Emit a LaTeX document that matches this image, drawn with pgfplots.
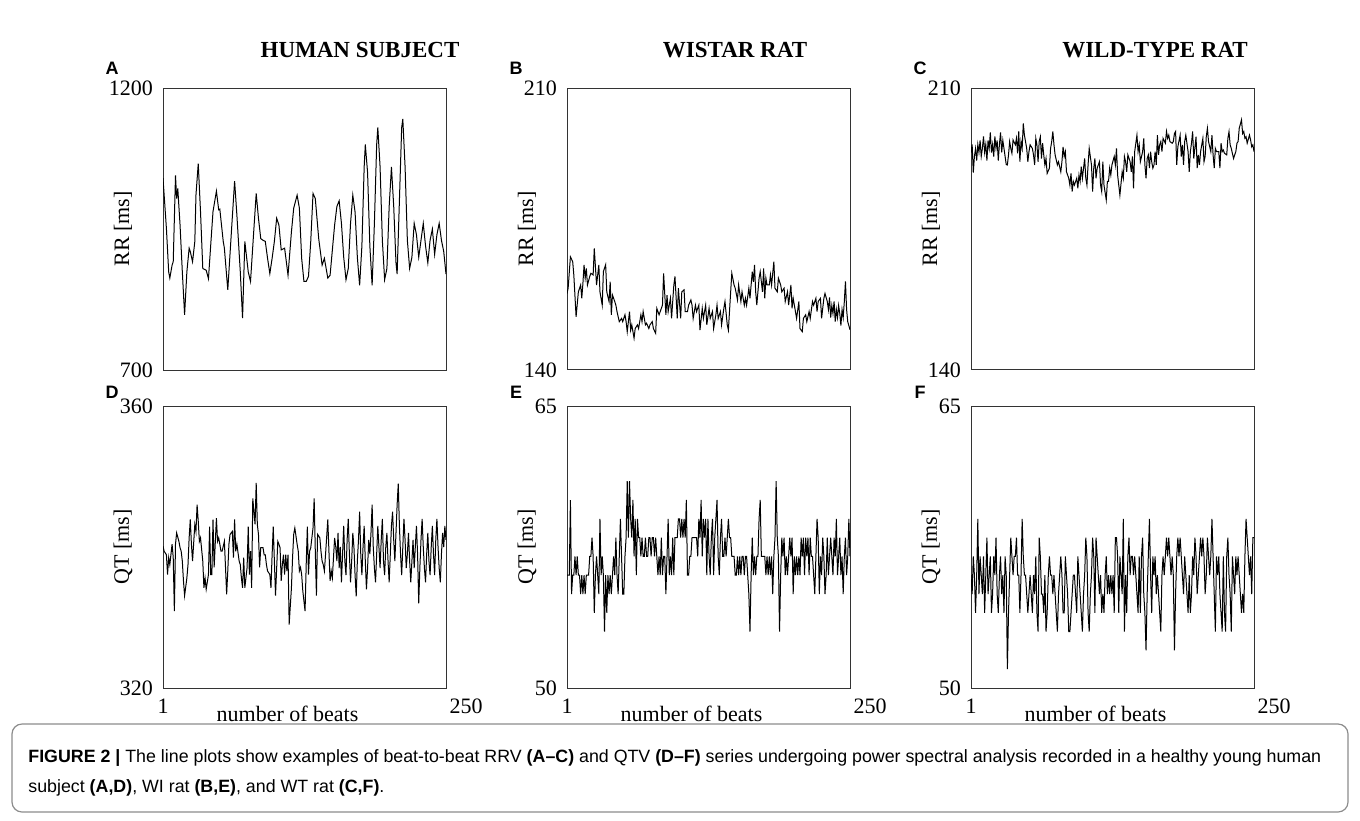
\documentclass[border=0pt]{standalone}
\usepackage{fontspec}
\setmainfont{Liberation Serif}
\newfontfamily\sansf{Liberation Sans}
\usepackage{pgfplots}
\pgfplotsset{compat=1.18}
\pgfplotsset{
  panel/.style={
    scale only axis, width=141.5pt, height=141pt,
    xmin=1, xmax=250, anchor=north west,
    axis line style={draw=black!80, line width=0.5pt},
    major tick length=0pt,
    tick label style={font=\fontsize{11}{13}\selectfont},
    /pgf/number format/assume math mode=true,
    /pgf/number format/1000 sep={},
    xtick=\empty,
    yticklabel style={anchor=east, xshift=-1.5pt},
    every axis y label/.style={at={(axis description cs:0,0.5)}, xshift=-20pt, rotate=90, anchor=center, font=\fontsize{11}{13}\selectfont},
    every axis x label/.style={at={(axis description cs:0.44,0)}, yshift=-13pt, anchor=center, font=\fontsize{11}{13}\selectfont},
    cycle list={{black, mark=none, line width=0.5pt}},
  },
  bottom/.style={xtick={1}, extra x ticks={250}, extra x tick style={tick label style={xshift=10pt}},
    xticklabel style={anchor=north, yshift=-2pt}, xlabel={number of beats}},
}
\begin{document}
\begin{tikzpicture}[x=0.5pt,y=-0.5pt]
\path[use as bounding box] (0,0) rectangle (1360,820);
% titles
\node[font=\fontsize{11.5}{13}\selectfont\bfseries] at (360,50) {HUMAN SUBJECT};
\node[font=\fontsize{11.5}{13}\selectfont\bfseries] at (735,50) {WISTAR RAT};
\node[font=\fontsize{11.5}{13}\selectfont\bfseries] at (1155,50) {WILD-TYPE RAT};
\foreach \L/\xx/\yy in {A/112/68, B/516/68, C/920/68, D/112/392, E/516/392, F/920/392}
  \node[font=\sansf\bfseries\fontsize{9}{10}\selectfont] at (\xx,\yy) {\L};

% ---------- A ----------
\begin{axis}[panel, at={(81.5pt,-44pt)}, ymin=700, ymax=1200, ytick={700,1200}, ylabel={RR [ms]}]
\addplot[black, mark=none, line width=0.5pt] coordinates {(1,1040) (4,951) (6,874) (7,863) (9,886) (10,892) (12,1045) (13,1004) (14,1022) (16,957) (18,874) (20,798) (22,874) (24,916) (25,910) (27,892) (29,928) (30,1010) (32,1066) (34,981) (36,880) (39,877) (41,862) (43,922) (45,981) (48,1017) (50,984) (51,985) (54,928) (55,916) (58,842) (61,939) (64,1035) (66,975) (69,874) (71,792) (73,928) (76,874) (78,857) (81,951) (83,1013) (85,969) (87,933) (89,930) (91,928) (93,898) (95,871) (97,898) (99,928) (101,969) (103,957) (105,913) (108,916) (111,868) (114,945) (116,987) (119,1010) (121,987) (123,898) (125,857) (127,857) (129,866) (131,928) (133,1013) (135,1004) (138,933) (141,886) (143,898) (146,863) (148,868) (152,957)
(154,990) (156,1000) (158,960) (160,900) (162,860) (164,880) (166,960) (168,1010) (170,980) (172,900) (174,850) (176,920) (178,1060) (179,1100) (181,1050) (183,920) (185,850) (187,960) (189,1100) (190,1130) (192,1060) (194,930) (196,860) (198,880) (200,990) (202,1060) (204,990) (206,890) (207,870) (209,1000) (211,1130) (212,1145) (214,1060) (216,930) (218,880) (220,900) (222,960) (224,940) (226,900) (228,930) (230,960) (232,920) (234,890) (236,930) (238,950) (240,905) (242,940) (244,960) (246,930) (248,910) (250,870)};
\end{axis}

% ---------- B ----------
\begin{axis}[panel, at={(283.5pt,-44pt)}, ymin=140, ymax=210, ytick={140,210}, ylabel={RR [ms]}]
\addplot[black, mark=none, line width=0.5pt] coordinates {(1,159.0) (2,160.3) (4,168.1) (6,166.9) (7,163.6) (9,153.2) (11,159.4) (13,161.1) (14,157.8) (15,161.5) (16,166.1) (17,162.8) (18,165.2) (19,161.1) (21,163.2) (22,164.0) (24,163.6) (25,170.2) (27,161.1) (29,166.1) (30,159.4) (32,156.1) (33,164.4) (35,166.1) (36,159.4) (38,157.0) (39,161.9) (40,153.7) (41,158.6) (43,157.0) (44,156.1) (45,154.5) (47,152.0) (49,152.8) (50,152.0) (52,153.7) (53,152.0) (54,149.5) (56,154.5) (57,149.9) (58,151.2) (60,147.9) (61,150.3) (63,151.2) (64,150.3) (66,153.7) (67,152.0) (68,154.5) (70,151.2) (71,151.6) (73,150.3) (74,151.2) (76,152.0) (77,150.3) (79,149.1) (80,155.3) (82,153.7) (83,154.5) (85,156.1) (86,164.0) (88,153.7) (89,158.6) (90,154.5) (92,157.8) (93,152.8) (95,161.1) (96,163.2) (98,152.8) (99,160.3) (101,152.8) (102,159.4) (104,159.9) (105,154.5) (107,154.5) (108,156.1) (110,157.4) (111,156.1) (112,152.8) (114,156.1) (115,154.5) (117,156.1) (118,149.9) (120,155.3) (121,152.8) (123,156.1) (124,151.2) (126,155.3) (127,152.8) (129,154.5) (130,150.3) (132,153.7) (133,156.1) (134,152.8) (136,154.5) (137,151.2) (139,155.3) (140,157.0) (142,151.2) (143,149.9) (145,159.4) (146,164.0) (148,161.1) (149,160.3) (151,157.4) (152,161.1) (154,157.0) (155,159.4) (157,156.1) (158,157.8) (159,156.1) (161,160.3) (162,157.8) (164,164.4) (165,161.9) (166,166.1) (167,159.4) (168,156.1) (170,162.8) (171,164.4) (173,159.4) (174,165.2) (175,157.8) (176,162.8) (177,161.1) (179,161.1) (180,163.6) (181,161.1) (183,166.9) (184,160.3) (186,159.4) (187,162.8) (189,161.1) (190,159.4) (192,160.3) (193,157.0) (195,159.4) (196,156.1) (198,161.1) (199,155.3) (200,157.8) (202,154.5) (203,152.8) (205,157.0) (206,150.3) (208,149.5) (209,152.8) (211,153.7) (212,152.0) (214,154.5) (215,152.8) (217,157.0) (218,156.1) (220,157.8) (221,154.5) (222,157.0) (224,157.8) (225,152.8) (227,157.8) (228,159.0) (230,157.0) (231,155) (232,158) (233,153) (234,156) (235,154) (236,157) (237,152) (238,155) (239,153) (240,156) (241,154) (242,151) (243,155) (244,153) (245,157) (246,162) (247,155) (248,152) (249,151) (250,150)};
\end{axis}

% ---------- C ----------
\begin{axis}[panel, at={(485.5pt,-44pt)}, ymin=140, ymax=210, ytick={140,210}, ylabel={RR [ms]}]
\addplot[black, mark=none, line width=0.5pt] coordinates {(1,194) (2,196) (3,189) (4,193) (5,195) (6,192) (7,196) (8,194) (9,197) (10,193) (11,195) (12,198) (13,194) (14,196) (15,192) (16,197) (17,195) (18,199) (19,194) (20,196) (21,193) (22,198) (23,195) (24,197) (25,192) (26,196) (27,199) (28,194) (29,197) (30,195) (31,193) (32,191)
(33,190.9) (34,193.4) (35,196.7) (36,195.0) (37,193.8) (38,197.1) (40,195.9) (41,197.5) (42,193.8) (43,199.2) (44,191.7) (45,196.7) (46,195.0) (47,201.2) (48,198.3) (50,195.0) (51,191.7) (52,194.2) (53,195.9) (55,195.0) (56,193.4) (57,190.9) (58,197.5) (59,195.9) (60,191.7) (61,196.7) (62,197.9) (63,192.5) (64,196.3) (65,193.4) (66,190.9) (67,192.5) (68,188.8) (70,190.1) (71,195.0) (72,196.7) (73,199.2) (74,195.9) (75,193.4) (77,190.9) (78,191.7) (80,189.2) (81,191.7) (82,195.4) (83,193.0) (84,194.2) (85,189.2) (87,187.6) (88,185.9) (89,188.8) (90,184.3) (91,186.8) (92,185.9) (94,187.6) (95,185.1) (96,188.4) (97,186.8) (98,190.5) (99,187.6) (101,192.5) (102,187.6) (103,185.9) (104,190.9) (105,195.0) (107,190.9) (108,184.3) (109,190.1) (110,192.5) (111,187.6) (112,190.1) (114,191.7) (115,185.9) (116,184.3) (117,191.7) (118,185.9) (120,182.2) (121,186.8) (122,186.8) (123,190.1) (124,188.4) (125,190.9) (127,193.0) (128,190.9) (129,195.0) (130,188.4) (131,185.9) (132,183.4) (134,189.2) (135,187.6) (136,193.0) (137,191.7) (138,189.2) (139,193.4) (141,191.7) (142,189.2) (143,193.0) (144,185.1) (145,194.2) (147,198.3) (148,194.2) (149,195.9) (150,191.7) (152,194.2)
(153,197.5) (154,190.9) (155,187.6) (156,192.5) (157,193.4) (158,190.1) (159,194.2) (160,191.7) (161,190.1) (162,190.9) (163,194.2) (164,190.9) (165,198.3) (166,193.4) (167,195.9) (168,196.7) (169,194.2) (170,197.5) (172,196.3) (173,199.2) (174,197.5) (175,198.3) (176,196.7) (178,196.3) (179,196.7) (180,198.7) (181,199.2) (182,190.9) (183,195.4) (185,198.3) (186,193.0) (187,195.9) (188,190.9) (189,196.7) (190,198.3) (192,194.2) (193,189.2) (194,194.2) (195,196.3) (196,199.2) (197,192.5) (199,197.9) (200,190.1) (201,193.4) (202,190.9) (203,194.2) (205,197.5) (206,191.7) (207,193.0) (208,197.9) (209,200.0) (210,196.7) (212,194.2) (213,198.3) (214,193.4) (215,190.1) (216,195.0) (217,194.2) (219,194.2) (220,190.1) (221,196.3) (222,194.2) (223,194.6) (224,193.8) (226,193.4) (227,197.5) (228,199.2) (229,195.9) (230,195.0) (232,192.5) (233,193.4) (234,194.2) (235,196.3) (236,196.7) (237,200.0) (239,202.1) (240,198.7) (241,199.2) (242,197.5) (243,197.9) (244,196.3) (246,198.3) (247,197.1) (248,195.4) (249,195.9) (250,194.2)};
\end{axis}

% ---------- D ----------
\begin{axis}[panel, bottom, at={(81.5pt,-203pt)}, ymin=320, ymax=360, ytick={320,360}, ylabel={QT [ms]}]
\addplot[black, mark=none, line width=0.5pt] coordinates {(1,340.1) (2,339.4) (4,338.9) (5,336.1) (6,338.5) (7,337.5) (9,340.4) (10,338.5) (11,330.9) (12,340.4) (13,342.0) (15,340.8) (16,339.9) (17,339.4) (18,338.0) (19,335.2) (20,333.1) (22,335.6) (23,337.5) (24,341.3) (25,343.9) (26,340.4) (27,338.0) (29,343.2) (30,342.2) (31,346.0) (32,343.7) (33,340.8) (34,341.3) (36,338.0) (37,334.2) (38,335.6) (39,334.0) (41,336.1) (42,342.9) (43,336.1) (44,336.1) (45,343.9) (46,337.1) (48,344.1) (49,340.8) (50,341.3) (51,340.4) (52,339.4) (53,339.4) (55,340.8) (56,337.1) (57,333.3) (58,336.6) (59,340.4) (60,341.8) (62,342.2) (63,338.5) (64,343.9) (65,339.4) (66,340.4) (68,338.0) (69,337.5) (70,335.6) (71,334.2) (72,338.5) (73,334.2) (75,337.1) (76,342.9) (77,336.1) (78,339.4) (79,334.2) (80,346.9) (82,343.2) (83,349.1) (84,343.2) (85,341.8) (86,337.1) (87,339.9) (89,339.9) (90,338.9) (91,338.9) (92,337.5) (93,336.6) (95,336.1) (96,334.2) (97,338.9) (98,342.9) (99,338.0) (100,333.1) (102,340.8) (103,340.4) (104,339.9) (105,335.2) (106,337.5) (107,338.9) (108,336.1) (109,338.9) (110,336.6) (111,338.9) (112,329.0) (114,334.2) (115,338.5) (116,341.8) (117,342.7) (119,340.4) (120,339.4) (121,336.6) (122,337.1) (123,336.1) (124,333.8) (126,330.9) (127,337.5) (128,342.9) (129,336.1) (130,339.4) (131,339.9) (133,342.7) (134,346.9) (135,339.4) (136,333.1) (137,341.8) (139,341.3) (140,339.4) (141,338.0) (142,337.5) (143,336.6) (144,338.9) (146,343.9) (147,339.4) (148,335.2) (149,336.6) (150,335.6) (152,341.3)
(153,340) (154,338) (155,342) (156,337) (157,340) (158,335) (159,339) (160,343) (161,338) (162,336) (163,341) (164,344) (165,339) (166,335) (167,338) (168,342) (169,340) (170,336) (171,333) (172,338) (173,341) (174,345) (175,339) (176,336) (177,340) (178,343) (179,338) (180,334) (181,337) (182,341) (183,339) (184,342) (185,346) (186,340) (187,337) (188,335) (189,339) (190,343) (191,340) (192,337) (193,341) (194,344) (195,338) (196,336) (197,340) (198,342) (199,338) (200,335) (201,339) (202,343) (203,345) (204,341) (205,338) (206,342) (207,346) (208,349) (209,343) (210,339) (211,336) (212,340) (213,344) (214,341) (215,337) (216,339) (217,342) (218,338) (219,335) (220,338) (221,341) (222,337) (223,340) (224,343) (225,339) (226,332) (227,337) (228,341) (229,344) (230,340) (231,337) (232,335) (233,339) (234,342) (235,338) (236,336) (237,340) (238,343) (239,339) (240,336) (241,341) (242,344) (243,340) (244,337) (245,335) (246,339) (247,342) (248,340) (249,343) (250,341)};
\end{axis}

% ---------- E ----------
\begin{axis}[panel, bottom, at={(283.5pt,-203pt)}, ymin=50, ymax=65, ytick={50,65}, ylabel={QT [ms]}]
\addplot[black, mark=none, line width=0.5pt] coordinates {(1,56) (2,56) (3,56) (4,60) (5,55) (6,56) (7,56) (8,57) (9,56) (10,57) (11,56) (12,56) (13,55) (14,56) (15,55) (16,56) (17,55) (18,56) (19,56) (20,56) (21,57) (22,57) (23,58) (24,57) (25,54) (26,56) (27,57) (28,56) (29,55) (30,59) (31,56) (32,57) (33,56) (34,53) (35,56) (36,54) (37,56) (38,55) (39,56) (40,55) (41,56) (42,57) (43,56) (44,58) (45,56) (46,55) (47,57) (48,59) (49,57) (50,55) (51,55) (52,57) (53,58) (54,61) (55,58) (56,61) (57,59) (58,58) (59,60) (60,57) (61,59) (62,56) (63,59) (64,58) (65,58) (66,57) (67,58) (68,57) (69,57) (70,58) (71,57) (72,57) (73,58) (74,58) (75,57) (76,58) (77,58) (78,57) (79,58) (80,57) (81,56) (82,57) (83,56) (84,58) (85,56) (86,57) (87,57) (88,55) (89,57) (90,59) (91,56) (92,57) (93,56) (94,58) (95,56) (96,58) (97,58) (98,58) (99,59) (100,59) (101,58) (102,59) (103,58) (104,59) (105,58) (106,60) (107,56) (108,56) (109,57) (110,57) (111,58) (112,58) (113,58) (114,58) (115,58)
(116,57) (117,59) (118,58) (119,60) (120,57) (121,59) (122,58) (123,59) (124,56) (125,59) (126,57) (127,56) (128,58) (129,59) (130,56) (131,58) (132,59) (133,60) (134,57) (135,56) (136,58) (137,59) (138,57) (139,57) (140,58) (141,57) (142,58) (143,59) (144,58) (145,58) (146,57) (147,57) (148,57) (149,56) (150,56) (151,57) (152,56) (153,57) (154,56) (155,57) (156,57) (157,56) (158,57) (159,57) (160,56) (161,55) (162,53) (163,56) (164,58) (165,56) (166,57) (167,56) (168,57) (169,57) (170,59) (171,60) (172,57) (173,57) (174,57) (175,57) (176,56) (177,57) (178,56) (179,57) (180,56) (181,57) (182,55) (183,57) (184,58) (185,61) (186,58) (187,57) (188,53) (189,56) (190,58) (191,57) (192,58) (193,56) (194,57) (195,56) (196,57) (197,58) (198,57) (199,58) (200,55) (201,57) (202,56) (203,57) (204,56) (205,57) (206,56) (207,58) (208,57) (209,58) (210,56) (211,58) (212,57) (213,58) (214,56) (215,58) (216,57) (217,57) (218,56) (219,55) (220,57) (221,59) (222,58) (223,55) (224,57) (225,56) (226,58) (227,57) (228,55) (229,56) (230,58) (231,56) (232,57) (233,58) (234,57) (235,56) (236,58) (237,57) (238,59) (239,56) (240,57) (241,58) (242,56) (243,57) (244,55) (245,57) (246,58) (247,56) (248,57) (249,59) (250,57)};
\end{axis}

% ---------- F ----------
\begin{axis}[panel, bottom, at={(485.5pt,-203pt)}, ymin=50, ymax=65, ytick={50,65}, ylabel={QT [ms]}]
\addplot[black, mark=none, line width=0.5pt] coordinates {(1,56) (2,55) (3,57) (4,56) (5,54) (6,56) (7,59) (8,55) (9,57) (10,56) (11,55) (12,57) (13,54) (14,56) (15,58) (16,55) (17,56) (18,57) (19,54) (20,55) (21,57) (22,56) (23,58) (24,55) (25,54) (26,56) (27,57) (28,55) (29,56) (30,54) (31,57) (32,56)
(33,51) (34,54) (35,56) (36,58) (37,57) (38,56) (39,57) (40,57) (41,58) (42,56) (43,56) (44,54) (45,56) (46,59) (47,57) (48,56) (49,56) (50,55) (51,54) (52,55) (53,56) (54,55) (55,54) (56,56) (57,55) (58,57) (59,54) (60,53) (61,58) (62,57) (63,55) (64,55) (65,54) (66,56) (67,53) (68,54) (69,56) (70,57) (71,56) (72,56) (73,55) (74,56) (75,55) (76,54) (77,53) (78,55) (79,56) (80,57) (81,56) (82,54) (83,54) (84,57) (85,56) (86,55) (87,53) (88,53) (89,54) (90,55) (91,56) (92,56) (93,55) (94,54) (95,57) (96,56) (97,55) (98,54) (99,53) (100,55) (101,56) (102,58) (103,57) (104,54) (105,53) (106,55) (107,56) (108,58) (109,57) (110,54) (111,58) (112,57) (113,56) (114,55) (115,56) (116,54) (117,55) (118,54) (119,56) (120,57) (121,55) (122,56) (123,55) (124,56) (125,55) (126,56) (127,54) (128,58) (129,58) (130,57) (131,54) (132,57) (133,56) (134,55) (135,59) (136,53) (137,56) (138,54) (139,57) (140,58) (141,56) (142,57) (143,57) (144,56) (145,57) (146,56) (147,55) (148,54) (149,57)
(150,54) (151,57) (152,58) (153,55) (154,54) (155,52) (156,55) (157,57) (158,59) (159,56) (160,54) (161,57) (162,56) (163,57) (164,55) (165,56) (166,55) (167,54) (168,53) (169,56) (170,57) (171,56) (172,57) (173,58) (174,57) (175,58) (176,57) (177,56) (178,57) (179,56) (180,52) (181,55) (182,57) (183,58) (184,57) (185,58) (186,57) (187,56) (188,55) (189,57) (190,56) (191,55) (192,54) (193,56) (194,54) (195,55) (196,57) (197,56) (198,58) (199,57) (200,55) (201,56) (202,57) (203,58) (204,57) (205,58) (206,57) (207,55) (208,56) (209,58) (210,57) (211,56) (212,57) (213,59) (214,57) (215,55) (216,53) (217,57) (218,56) (219,57) (220,55) (221,54) (222,53) (223,57) (224,54) (225,53) (226,57) (227,58) (228,56) (229,55) (230,53) (231,57) (232,56) (233,55) (234,57) (235,56) (236,57) (237,56) (238,55) (239,54) (240,55) (241,54) (242,57) (243,59) (244,58) (245,57) (246,56) (247,57) (248,55) (249,58) (250,58)};
\end{axis}

% caption
\draw[black!45, line width=0.6pt, rounded corners=5pt] (12,724) rectangle (1348,812);
\node[anchor=base west, font=\sansf\fontsize{8.9}{10}\selectfont, inner sep=0pt] at (28,762) {\textbf{FIGURE 2 |} The line plots show examples of beat-to-beat RRV \textbf{(A–C)} and QTV \textbf{(D–F)} series undergoing power spectral analysis recorded in a healthy young human};
\node[anchor=base west, font=\sansf\fontsize{8.9}{10}\selectfont, inner sep=0pt] at (28,792) {subject \textbf{(A,D)}, WI rat \textbf{(B,E)}, and WT rat \textbf{(C,F)}.};
\end{tikzpicture}
\end{document}
